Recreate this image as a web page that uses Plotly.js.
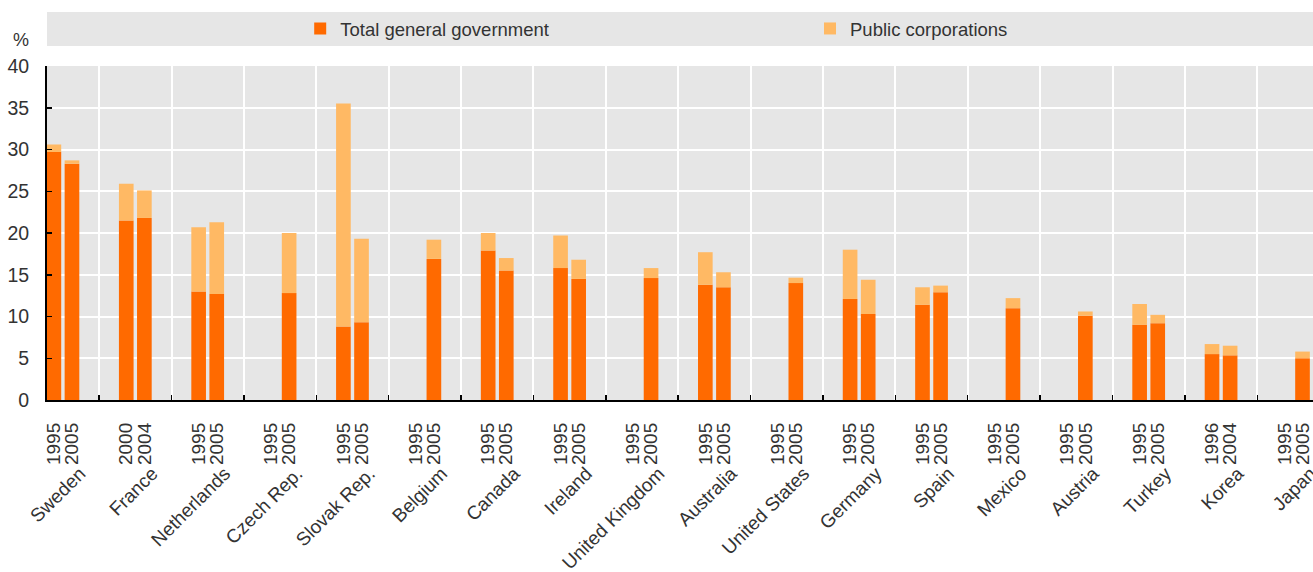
<!DOCTYPE html>
<html>
<head>
<meta charset="utf-8">
<script src="https://cdn.plot.ly/plotly-3.0.1.min.js"></script>
<style>
  html, body { margin: 0; padding: 0; background: #fff; }
  #chart { width: 1313px; height: 572px; }
</style>
</head>
<body>
<div id="chart"></div>
<script>
// ---- Data ----
const countries = ["Sweden", "France", "Netherlands", "Czech Rep.", "Slovak Rep.", "Belgium",
  "Canada", "Ireland", "United Kingdom", "Australia", "United States", "Germany",
  "Spain", "Mexico", "Austria", "Turkey", "Korea", "Japan"];
const yearsFirst  = ["1995", "2000", "1995", "1995", "1995", "1995", "1995", "1995", "1995",
  "1995", "1995", "1995", "1995", "1995", "1995", "1995", "1996", "1995"];
const yearsSecond = ["2005", "2004", "2005", "2005", "2005", "2005", "2005", "2005", "2005",
  "2005", "2005", "2005", "2005", "2005", "2005", "2005", "2004", "2005"];
// Total general government, first year
const govFirst  = [29.7, 21.5, 13.0, null, 8.8, null, 17.9, 15.8, null, 13.8, null, 12.1,
  11.4, null, null, 9.0, 5.5, null];
// Public corporations, first year
const corpFirst = [0.9, 4.4, 7.7, null, 26.7, null, 2.1, 3.9, null, 3.9, null, 5.9,
  2.1, null, null, 2.5, 1.2, null];
// Total general government, second year
const govSecond  = [28.3, 21.8, 12.7, 12.8, 9.3, 16.9, 15.5, 14.5, 14.6, 13.5, 14.0, 10.3,
  12.9, 11.0, 10.1, 9.2, 5.35, 5.0];
// Public corporations, second year
const corpSecond = [0.4, 3.3, 8.6, 7.2, 10.0, 2.3, 1.5, 2.3, 1.2, 1.8, 0.65, 4.1,
  0.8, 1.2, 0.5, 1.0, 1.15, 0.8];
const yTicks = [0, 5, 10, 15, 20, 25, 30, 35, 40];

// ---- Styling ----
const GOV = "#ff6a00";
const CORP = "#ffb964";
const FONT = "'Liberation Sans', Arial, sans-serif";
const TXT = "#333333";
const XRANGE = [-0.22, 17.27];
const HALF = 0.125; // half distance between the two bars of a group (bargap 0.5, 2 groups)

const yearVals = [], yearText = [];
countries.forEach((c, i) => {
  yearVals.push(i - HALF, i + HALF);
  yearText.push(yearsFirst[i], yearsSecond[i]);
});

const traces = [
  { type: "bar", name: "Total general government", x: countries, y: govFirst,
    offsetgroup: "a", legendgroup: "gov", legend: "legend", marker: { color: GOV }, hoverinfo: "skip" },
  { type: "bar", name: "Public corporations", x: countries, y: corpFirst, base: govFirst,
    offsetgroup: "a", legendgroup: "corp", legend: "legend2", marker: { color: CORP }, hoverinfo: "skip" },
  { type: "bar", name: "Total general government", x: countries, y: govSecond,
    offsetgroup: "b", legendgroup: "gov", showlegend: false, marker: { color: GOV }, hoverinfo: "skip" },
  { type: "bar", name: "Public corporations", x: countries, y: corpSecond, base: govSecond,
    offsetgroup: "b", legendgroup: "corp", showlegend: false, marker: { color: CORP }, hoverinfo: "skip" },
  // carrier for the year tick axis (draws nothing)
  { type: "scatter", mode: "none", x: yearVals, y: yearVals.map(() => 0),
    xaxis: "x2", yaxis: "y", showlegend: false, hoverinfo: "skip" }
];

const legendCommon = {
  orientation: "h",
  xanchor: "left",
  y: 1.111, yanchor: "middle",
  bgcolor: "rgba(0,0,0,0)",
  font: { family: FONT, size: 18.5, color: TXT }
};

const layout = {
  width: 1313, height: 572,
  margin: { l: 47, r: 0, t: 66, b: 172, pad: 0, autoexpand: false },
  paper_bgcolor: "#ffffff",
  plot_bgcolor: "#e6e6e6",
  font: { family: FONT, color: TXT, size: 19 },
  barmode: "group",
  bargap: 0.5,
  bargroupgap: 0.19,
  showlegend: true,
  legend: Object.assign({ x: 0.2 }, legendCommon),
  legend2: Object.assign({ x: 0.6027 }, legendCommon),
  xaxis: {
    type: "category",
    range: XRANGE,
    tickson: "boundaries",
    ticks: "inside", ticklen: 5, tickwidth: 1.5, tickcolor: "#000",
    showline: true, linecolor: "#000", linewidth: 2,
    showgrid: true, gridcolor: "#ffffff", gridwidth: 2,
    tickangle: -45,
    ticklabelstandoff: 53,
    ticklabelshift: 17,
    ticklabeloverflow: "allow",
    tickfont: { family: FONT, size: 19, color: TXT },
    automargin: false,
    fixedrange: true
  },
  xaxis2: {
    type: "linear",
    overlaying: "x",
    anchor: "y",
    side: "bottom",
    range: XRANGE,
    tickmode: "array",
    tickvals: yearVals,
    ticktext: yearText,
    tickangle: -90,
    ticks: "",
    ticklabelstandoff: 18,
    ticklabeloverflow: "allow",
    showline: false, showgrid: false, zeroline: false,
    tickfont: { family: FONT, size: 19, color: TXT },
    automargin: false,
    fixedrange: true
  },
  yaxis: {
    range: [0, 40],
    tickmode: "array",
    tickvals: yTicks,
    ticks: "inside", ticklen: 5, tickwidth: 1.5, tickcolor: "#000",
    showline: true, linecolor: "#000", linewidth: 2,
    showgrid: true, gridcolor: "#ffffff", gridwidth: 2,
    zeroline: false,
    ticklabelstandoff: 12,
    tickfont: { family: FONT, size: 19.5, color: TXT },
    automargin: false,
    fixedrange: true
  },
  shapes: [
    { type: "rect", xref: "paper", yref: "paper", layer: "below",
      x0: 0, x1: 1, y0: 1.06, y1: 1.162,
      fillcolor: "#e6e6e6", line: { width: 0 } }
  ],
  annotations: [
    { text: "%", xref: "paper", yref: "paper", x: 0, y: 1.078,
      xshift: -26, xanchor: "center", yanchor: "middle", showarrow: false,
      font: { family: FONT, size: 18, color: TXT } }
  ]
};

Plotly.newPlot("chart", traces, layout, { displayModeBar: false, staticPlot: true });
</script>
</body>
</html>
